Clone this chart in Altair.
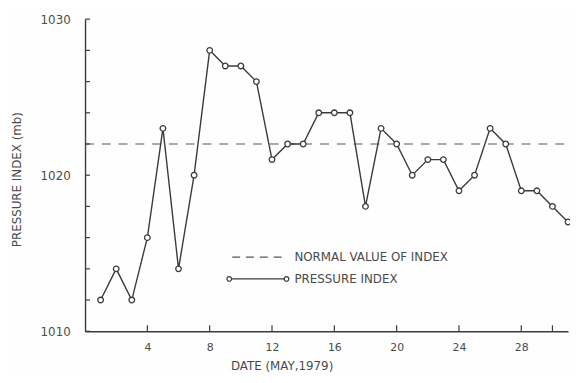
import altair as alt
import pandas as pd

days = list(range(1, 32))
pressure = [1012, 1014, 1012, 1016, 1023, 1014, 1020, 1028, 1027, 1027, 1026,
            1021, 1022, 1022, 1024, 1024, 1024, 1018, 1023, 1022, 1020, 1021,
            1021, 1019, 1020, 1023, 1022, 1019, 1019, 1018, 1017]
normal_value = 1022
x_tick_labels = [4, 8, 12, 16, 20, 24, 28]
x_ticks = [4, 8, 12, 16, 20, 24, 28, 30]
y_tick_labels = [1010, 1020, 1030]
y_ticks = list(range(1010, 1031, 2))
legend_labels = ["NORMAL VALUE OF INDEX", "PRESSURE INDEX"]

W, H = 489, 316
INK = "#3a3a3a"
TXT = "#4a4a4a"
FONT = "DejaVu Sans"

df = pd.DataFrame({"day": days, "p": pressure})

xs = alt.Scale(domain=[0, 31], nice=False, zero=False)
ys = alt.Scale(domain=[1010, 1030], nice=False, zero=False)

x_axis = alt.Axis(values=x_tick_labels, ticks=False, grid=False, domainColor=INK,
                  domainWidth=1.4, labelFont=FONT, labelFontSize=11, labelColor=TXT,
                  labelPadding=10, title="DATE (MAY,1979)", titleFont=FONT,
                  titleFontSize=12, titleFontWeight="normal", titleColor=TXT,
                  titleX=199, titleY=35, titleAnchor="middle", titleBaseline="middle")
y_axis = alt.Axis(values=y_tick_labels, format="d", ticks=False, grid=False,
                  domainColor=INK, domainWidth=1.4, labelFont=FONT, labelFontSize=12,
                  labelColor=TXT, labelPadding=15, title="PRESSURE INDEX (mb)",
                  titleFont=FONT, titleFontSize=12, titleFontWeight="normal",
                  titleColor=TXT, titleAngle=270, titleX=-69, titleY=162,
                  titleAnchor="middle", titleBaseline="middle")

base = alt.Chart(df)
line = base.mark_line(color=INK, strokeWidth=1.4).encode(
    x=alt.X("day:Q", scale=xs, axis=x_axis),
    y=alt.Y("p:Q", scale=ys, axis=y_axis),
)
pts = base.mark_point(shape="circle", fill="white", fillOpacity=1, stroke=INK,
                      strokeWidth=1.3, size=32, opacity=1).encode(
    x=alt.X("day:Q", scale=xs), y=alt.Y("p:Q", scale=ys))

normal = alt.Chart(pd.DataFrame({"n": [normal_value]})).mark_rule(
    color="#555", strokeWidth=1.2, strokeDash=[9, 8]).encode(
    y=alt.Y("n:Q", scale=ys), x=alt.value(0), x2=alt.value(W + 3))

xt = alt.Chart(pd.DataFrame({"t": x_ticks})).mark_rule(color=INK, strokeWidth=1.2).encode(
    x=alt.X("t:Q", scale=xs), y=alt.value(H), y2=alt.value(H - 6))
yt = alt.Chart(pd.DataFrame({"t": y_ticks})).mark_rule(color=INK, strokeWidth=1.2).encode(
    y=alt.Y("t:Q", scale=ys), x=alt.value(0), x2=alt.value(5))

# legend
leg_dash = alt.Chart(pd.DataFrame({"a": [0]})).mark_rule(
    color="#555", strokeWidth=1.2, strokeDash=[8, 6]).encode(
    x=alt.value(149), x2=alt.value(204), y=alt.value(241))
leg_line = alt.Chart(pd.DataFrame({"a": [0]})).mark_rule(
    color=INK, strokeWidth=1.3).encode(
    x=alt.value(146), x2=alt.value(204), y=alt.value(263))
leg_pts = alt.Chart(pd.DataFrame({"px": [146, 204]})).mark_point(
    shape="circle", fill="white", fillOpacity=1, stroke=INK, strokeWidth=1.2,
    size=22, opacity=1).encode(x=alt.X("px:Q", scale=None), y=alt.value(263))
leg_text = alt.Chart(pd.DataFrame({"lab": legend_labels, "yy": [241, 263]})).mark_text(
    align="left", baseline="middle", font=FONT, fontSize=12, color=TXT, dx=0).encode(
    x=alt.value(212), y=alt.Y("yy:Q", scale=None), text="lab:N")

chart = alt.layer(normal, line, pts, xt, yt, leg_dash, leg_line, leg_pts, leg_text).properties(
    width=W, height=H,
    autosize=alt.AutoSizeParams(type="none"),
    padding={"left": 78, "top": 9, "right": 2, "bottom": 42},
    background="#fefefe",
).configure_view(stroke=None)

chart.save("out.html", embed_options={"renderer": "svg", "actions": False})
